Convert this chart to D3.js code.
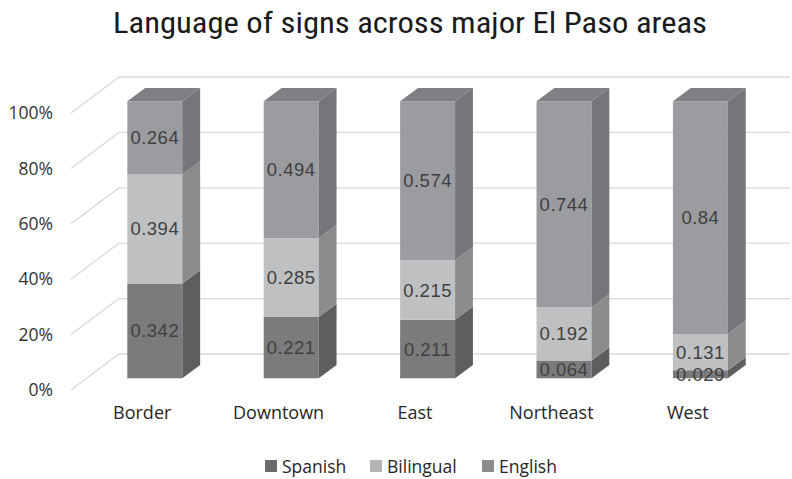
<!DOCTYPE html>
<html>
<head>
<meta charset="utf-8">
<script src="https://cdn.jsdelivr.net/npm/d3@7/dist/d3.min.js"></script>
<style>
  html, body { margin: 0; padding: 0; background: #ffffff; }
  svg { display: block; }
</style>
</head>
<body>
<svg id="chart" width="792" height="479"></svg>
<script>
// Sign language shares by El Paso area (each column sums to 1)
const areas = ["Border", "Downtown", "East", "Northeast", "West"];
const spanish = [0.342, 0.221, 0.211, 0.064, 0.029];
const bilingual = [0.394, 0.285, 0.215, 0.192, 0.131];
const english = [0.264, 0.494, 0.574, 0.744, 0.84];
const seriesNames = ["Spanish", "Bilingual", "English"];
const tickValues = [0, 0.2, 0.4, 0.6, 0.8, 1.0];

const svg = d3.select("#chart");

// Front plane scales; the scene recedes up and to the right.
const x = d3.scaleBand().domain(areas).range([71, 753]).paddingInner(0).paddingOuter(0);
const y = d3.scaleLinear().domain([0, 1]).range([390, 113]);
const depthX = 48, depthY = -36;          // full depth of the plot box
const barFront = 0.325, barBack = 0.697;  // depth fractions of the columns
const barFrac = 0.403;                    // column width relative to band

const faces = {
  Spanish:   { front: "#7b7b7d", side: "#5e5e60", top: "#6b6b6d", legend: "#6a6a6a" },
  Bilingual: { front: "#bfc0c2", side: "#8b8c8e", top: "#a6a7a9", legend: "#b4b4b4" },
  English:   { front: "#9b9ca0", side: "#75767a", top: "#7f8084", legend: "#8c8c8c" }
};

// project a point given front-plane x, value and depth fraction
const P = (px, v, d) => [px + depthX * d, y(v) + depthY * d];

// ----- walls and gridlines -----
const grid = svg.append("g").attr("stroke", "#d9d9d9").attr("stroke-width", 1.3).attr("fill", "none");
const x0 = x.range()[0];
tickValues.forEach(t => {
  const a = P(x0, t, 0), b = P(x0, t, 1);
  grid.append("line").attr("x1", a[0]).attr("y1", a[1]).attr("x2", b[0]).attr("y2", b[1]);
  grid.append("line").attr("x1", b[0]).attr("y1", b[1]).attr("x2", 790).attr("y2", b[1]);
});

// ----- y axis labels (front plane) -----
const yAxis = d3.axisLeft(y).tickValues(tickValues).tickFormat(d3.format(".0%")).tickSize(0).tickPadding(0);
const yg = svg.append("g").attr("transform", "translate(53,0)").call(yAxis);
yg.select(".domain").remove();
yg.selectAll("text")
  .attr("font-family", "'Open Sans', 'Liberation Sans', sans-serif")
  .attr("font-size", 17.5).attr("fill", "#333333");

// ----- stacked 3D columns -----
const rows = areas.map((a, i) => ({ area: a, Spanish: spanish[i], Bilingual: bilingual[i], English: english[i] }));
const stacked = d3.stack().keys(seriesNames)(rows);

const poly = pts => pts.map(p => p.join(",")).join(" ");
const bars = svg.append("g");
const labels = svg.append("g");

areas.forEach((area, i) => {
  const bw = x.bandwidth() * barFrac;
  const left = x(area) + (x.bandwidth() - bw) / 2;
  const right = left + bw;
  const g = bars.append("g");
  stacked.forEach((layer, li) => {
    const [v0, v1] = layer[i];
    const c = faces[layer.key];
    // front face
    const f = [P(left, v0, barFront), P(right, v0, barFront), P(right, v1, barFront), P(left, v1, barFront)];
    g.append("polygon").attr("points", poly(f)).attr("fill", c.front);
    // right side face
    const s = [P(right, v0, barFront), P(right, v0, barBack), P(right, v1, barBack), P(right, v1, barFront)];
    g.append("polygon").attr("points", poly(s)).attr("fill", c.side);
    // top face on the highest segment
    if (li === stacked.length - 1) {
      const t = [P(left, v1, barFront), P(right, v1, barFront), P(right, v1, barBack), P(left, v1, barBack)];
      g.append("polygon").attr("points", poly(t)).attr("fill", c.top);
    }
    // value label centred on the front face
    const c0 = P((left + right) / 2, (v0 + v1) / 2, barFront);
    labels.append("text")
      .attr("x", c0[0]).attr("y", c0[1])
      .attr("text-anchor", "middle").attr("dominant-baseline", "central")
      .attr("font-family", "'Liberation Sans', Arial, sans-serif")
      .attr("font-size", 18.5).attr("letter-spacing", 0.5)
      .attr("fill", "#404040")
      .text(layer[i].data[layer.key]);
  });
});

// ----- category labels -----
const xAxis = d3.axisBottom(x).tickSize(0).tickPadding(0);
const xg = svg.append("g").attr("transform", "translate(3,406)").call(xAxis);
xg.select(".domain").remove();
xg.selectAll("text")
  .attr("font-family", "'Open Sans', 'Liberation Sans', sans-serif")
  .attr("font-size", 18).attr("fill", "#262626").attr("dy", "0.71em");

// ----- title -----
svg.append("text")
  .attr("x", 410).attr("y", 33)
  .attr("text-anchor", "middle")
  .attr("font-family", "'Liberation Sans Narrow', 'Roboto Condensed', 'Liberation Sans', sans-serif")
  .attr("font-size", 30).attr("fill", "#1a1a1a")
  .attr("textLength", 594).attr("lengthAdjust", "spacingAndGlyphs")
  .text("Language of signs across major El Paso areas");

// ----- legend -----
const legendX = [265, 370, 482];
const leg = svg.append("g");
seriesNames.forEach((name, i) => {
  const g = leg.append("g").attr("transform", `translate(${legendX[i]},466)`);
  g.append("rect").attr("x", 0).attr("y", -6).attr("width", 12).attr("height", 12).attr("fill", faces[name].legend);
  g.append("text").attr("x", 17).attr("y", 0).attr("dominant-baseline", "central")
    .attr("font-family", "'Open Sans', 'Liberation Sans', sans-serif")
    .attr("font-size", 17.5).attr("fill", "#262626").text(name);
});
</script>
</body>
</html>
